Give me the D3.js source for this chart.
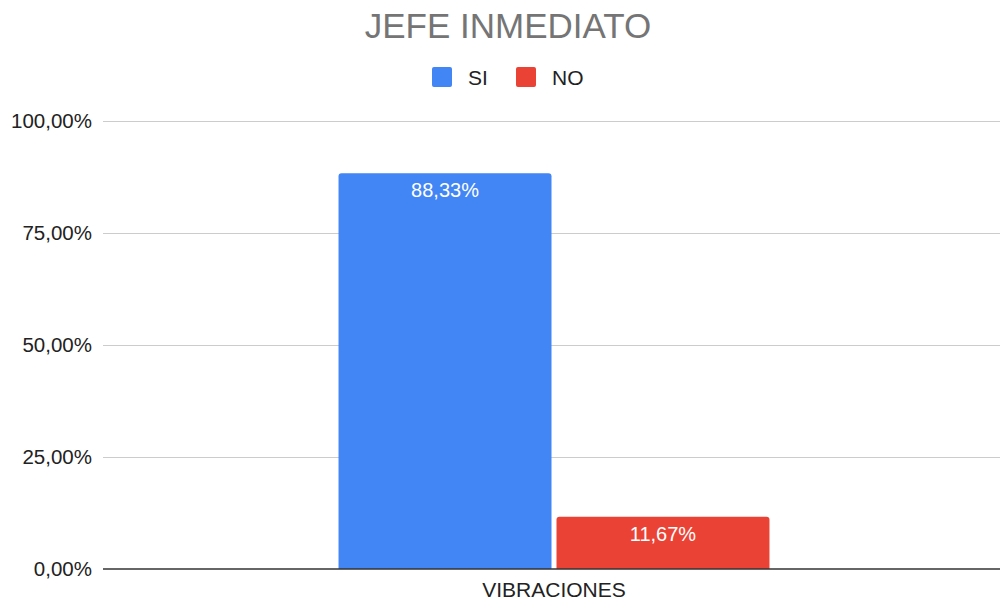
<!DOCTYPE html>
<html><head><meta charset="utf-8">
<script src="https://cdn.jsdelivr.net/npm/d3@7"></script>
<style>body{margin:0;background:#fff}svg{display:block}text{font-family:"Liberation Sans",Arial,sans-serif}</style>
</head><body>
<svg id="c" width="1000" height="601"></svg>
<script>
const categories = ["VIBRACIONES"];
const seriesNames = ["SI", "NO"];
const siValues = [88.33];
const noValues = [11.67];
const yTicks = [0, 25, 50, 75, 100];
const colors = ["#4285F4", "#EA4335"];
const title = "JEFE INMEDIATO";

const svg = d3.select("#c");
const fmt = v => d3.format(".2f")(v).replace(".", ",") + "%";
const y = d3.scaleLinear().domain([0, 100]).range([569, 121]);
const x0 = d3.scaleBand().domain(categories).range([108, 1000]).paddingInner(0.3485).paddingOuter(0.3485);
const x1 = d3.scaleBand().domain(seriesNames).range([0, x0.bandwidth()]).paddingInner(0.0229);

svg.append("text").attr("x", 508).attr("y", 38).attr("text-anchor", "middle")
  .attr("font-size", 35).attr("fill", "#757575").text(title);

// legend
const leg = [{n: "SI", x: 432}, {n: "NO", x: 516}];
leg.forEach((l, i) => {
  svg.append("rect").attr("x", l.x).attr("y", 67).attr("width", 20).attr("height", 20).attr("rx", 2).attr("fill", colors[i]);
  svg.append("text").attr("x", l.x + 36).attr("y", 85).attr("font-size", 21).attr("fill", "#222").text(l.n);
});

// grid
svg.append("g").selectAll("line").data(yTicks.filter(d => d > 0)).join("line")
  .attr("x1", 103).attr("x2", 1000).attr("y1", d => y(d)).attr("y2", d => y(d))
  .attr("stroke", "#cccccc").attr("stroke-width", 1).attr("shape-rendering", "crispEdges");
const yAxis = d3.axisLeft(y).tickValues(yTicks).tickSize(0).tickPadding(0).tickFormat(fmt);
const g = svg.append("g").attr("transform", "translate(92,0)").call(yAxis);
g.select(".domain").remove();
g.selectAll("text").attr("font-size", 20.5).attr("fill", "#222").attr("dy", "0.33em")
  .attr("font-family", '"Liberation Sans",Arial,sans-serif');

const data = categories.map((c, i) => ({c, vals: [siValues[i], noValues[i]]}));
const grp = svg.append("g").selectAll("g").data(data).join("g").attr("transform", d => `translate(${x0(d.c)},0)`);
const bars = grp.selectAll("g").data(d => d.vals.map((v, i) => ({s: seriesNames[i], v, i}))).join("g");
bars.append("path").attr("fill", d => colors[d.i]).attr("d", d => {
  const x = x1(d.s), w = x1.bandwidth(), t = y(d.v), b = y(0), r = 3;
  return `M${x},${b}V${t + r}Q${x},${t} ${x + r},${t}H${x + w - r}Q${x + w},${t} ${x + w},${t + r}V${b}Z`;
});
bars.append("text").attr("x", d => x1(d.s) + x1.bandwidth() / 2).attr("y", d => y(d.v) + 24)
  .attr("text-anchor", "middle").attr("font-size", 20).attr("fill", "#fff").text(d => fmt(d.v));

svg.append("line").attr("x1", 103).attr("x2", 1000).attr("y1", 569).attr("y2", 569)
  .attr("stroke", "#333").attr("stroke-width", 1.5);

svg.append("g").selectAll("text").data(categories).join("text")
  .attr("x", d => x0(d) + x0.bandwidth() / 2).attr("y", 597).attr("text-anchor", "middle")
  .attr("font-size", 21).attr("fill", "#222").text(d => d);
</script>
</body></html>
